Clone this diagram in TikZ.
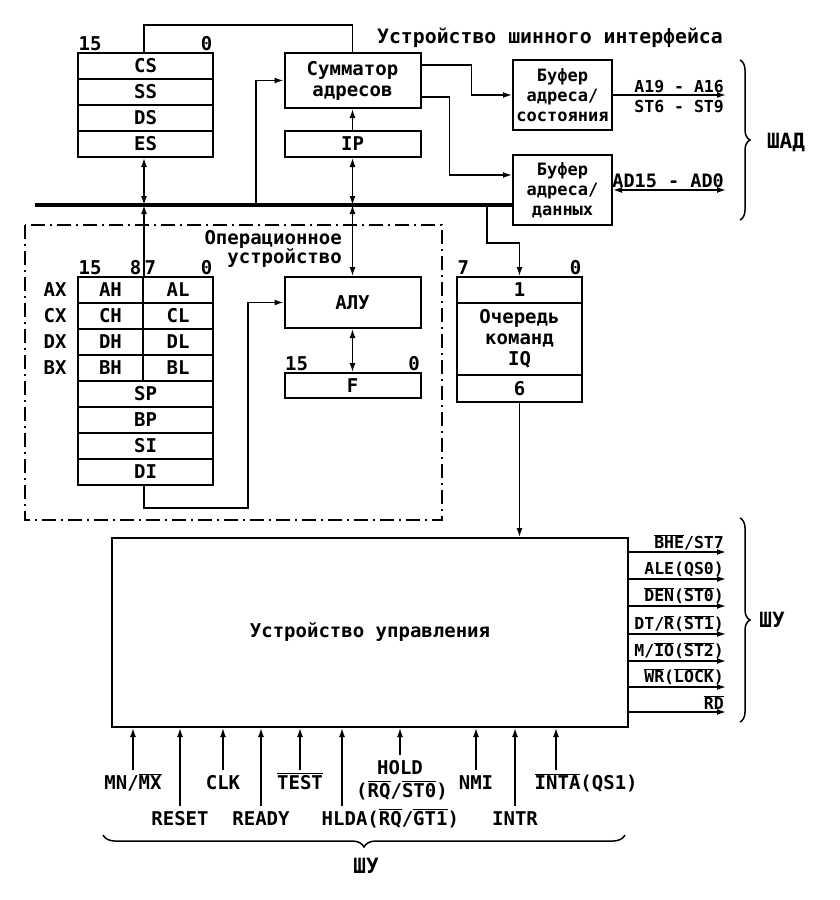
\documentclass[tikz,border=0pt]{standalone}
\usepackage{fontspec}
\setmainfont{DejaVu Sans Mono}[BoldFont={DejaVu Sans Mono Bold}]
\usetikzlibrary{arrows.meta,decorations.pathreplacing}
\newcommand{\ovl}[1]{\ensuremath{\overline{\mbox{#1}}}}
\newcommand{\diafont}{\fontsize{19}{21}\selectfont\bfseries}
\newcommand{\buffont}{\fontsize{17}{20}\selectfont\bfseries}
\newcommand{\outfont}{\fontsize{16.5}{20}\selectfont\bfseries}
\begin{document}
\begin{tikzpicture}
		    [%%%%%%%%%%%%%%%%%%%%%%%%%%%%%%
		        x=1pt, y=-1pt, font=\diafont,
		        reg/.style={rectangle,draw=black,line width=2pt,inner sep=0pt,minimum width=135pt,minimum height=26pt},
		        half/.style={reg,minimum width=#1},
		        blk/.style={rectangle,draw=black,line width=2pt,inner sep=0pt,align=center},
		        bits/.style={inner sep=1.5pt},
		        outlbl/.style={inner sep=2pt,font=\outfont},
		        sig/.style={inner sep=1.5pt,text height=17pt,text depth=4pt},
		        wire/.style={line width=1.5pt},
		        arr/.style={wire,-{Latex[length=9pt,width=6pt]}},
		        darr/.style={wire,{Latex[length=9pt,width=6pt]}-{Latex[length=9pt,width=6pt]}},
		        bus/.style={line width=3.8pt},
		        brc/.style={line width=1.5pt,decorate,decoration={brace,amplitude=#1}},
		    ]%%%%%%%%%%%%%%%%%%%%%%%%%%%%%%
		\useasboundingbox (0,0) rectangle (839,900);
		\node[font=\fontsize{19.8}{21}\selectfont\bfseries] (title) at (550,38) {Устройство шинного интерфейса};
		% segment registers
		\node[reg] (cs) at (145.5,66) {CS};
		\node[reg] (ss) at (145.5,92) {SS};
		\node[reg] (ds) at (145.5,118) {DS};
		\node[reg] (es) at (145.5,144) {ES};
		\node[bits, anchor=south west] (segh) at (cs.north west) {15};
		\node[bits, anchor=south east] (segl) at (cs.north east) {0};
		\node[blk, minimum width=136pt, minimum height=55pt] (sum) at (352.5,80.5) {Сумматор\\адресов};
		\node[reg, minimum width=136pt] (ip) at (352.5,144) {IP};
		\node[blk, minimum width=99pt, minimum height=70pt, font=\buffont] (bufs) at (562.5,95) {Буфер\\адреса/\\состояния};
		\node[blk, minimum width=99pt, minimum height=70pt, font=\buffont] (bufd) at (562.5,190) {Буфер\\адреса/\\данных};
		% execution unit
		\draw[line width=1.4pt, dash pattern=on 14pt off 5pt on 2pt off 5pt] (25,225) rectangle (442,520);
		\node[align=right, anchor=north east, inner sep=0pt, font=\fontsize{19}{19}\selectfont\bfseries] (opu) at (342,230) {Операционное\\устройство};
		\node[half=65pt] (ah) at (110.5,290) {AH};
		\node[half=70pt] (al) at (178,290) {AL};
		\node[half=65pt] (ch) at (110.5,316) {CH};
		\node[half=70pt] (cl) at (178,316) {CL};
		\node[half=65pt] (dh) at (110.5,342) {DH};
		\node[half=70pt] (dl) at (178,342) {DL};
		\node[half=65pt] (bh) at (110.5,368) {BH};
		\node[half=70pt] (bl) at (178,368) {BL};
		\node[reg] (sp) at (145.5,394) {SP};
		\node[reg] (bp) at (145.5,420) {BP};
		\node[reg] (si) at (145.5,446) {SI};
		\node[reg] (di) at (145.5,472) {DI};
		\node[bits, anchor=south west] (rh) at (ah.north west) {15};
		\node[bits, anchor=south east] (r8) at ([xshift=-1pt]ah.north east) {8};
		\node[bits, anchor=south west] (r7) at ([xshift=1pt]al.north west) {7};
		\node[bits, anchor=south east] (rl) at (al.north east) {0};
		\node[anchor=east] (ax) at ([xshift=-7pt]ah.west) {AX};
		\node[anchor=east] (cx) at ([xshift=-7pt]ch.west) {CX};
		\node[anchor=east] (dx) at ([xshift=-7pt]dh.west) {DX};
		\node[anchor=east] (bx) at ([xshift=-7pt]bh.west) {BX};
		\node[blk, minimum width=136pt, minimum height=51pt] (alu) at (352.5,302.5) {АЛУ};
		\node[reg, minimum width=136pt, minimum height=25pt] (f) at (352.5,385.5) {F};
		\node[bits, anchor=south west] (fh) at (f.north west) {15};
		\node[bits, anchor=south east] (fl) at (f.north east) {0};
		% instruction queue
		\node[reg, minimum width=125pt] (iq1) at (519.5,290) {1};
		\node[blk, minimum width=125pt, minimum height=72pt] (iqm) at (519.5,339) {Очередь\\команд\\IQ};
		\node[reg, minimum width=125pt, minimum height=27pt] (iq6) at (519.5,388.5) {6};
		\node[bits, anchor=south west] (qh) at (iq1.north west) {7};
		\node[bits, anchor=south east] (ql) at (iq1.north east) {0};
		% control unit
		\node[blk, minimum width=516pt, minimum height=189pt] (cu) at (370,632.5) {Устройство управления};
		% bus
		\coordinate (busl) at (35,205);
		\coordinate (tapa) at (256,205);
		\coordinate (tapq) at (487,205);
		\draw[bus] (busl) -- (bufd.west |- busl);
		\draw[wire] (cs.north -| ah.east) -- ++(0,-27) -| (sum.north);
		\draw[darr] (es.south -| ah.east) -- (busl -| ah.east);
		\draw[arr] (ah.north east) -- (ah.north east |- busl);
		\draw[arr] (ip.north) -- (sum.south);
		\draw[darr] (ip.south) -- (ip.south |- busl);
		\draw[darr] (ip.south |- busl) -- (alu.north);
		\draw[arr] (tapa) |- (sum.west);
		\draw[arr] ([yshift=15.5pt]sum.east) -- ++(50,0) |- (bufs.west);
		\draw[arr] ([yshift=-16.5pt]sum.east) -- ++(28,0) |- ([yshift=15pt]bufd.west);
		\draw[arr] (tapq) -- ++(0,38) -| (iq1.north);
		\draw[arr] (iq6.south) -- (iq6.south |- cu.north);
		\draw[darr] (alu.south) -- (f.north);
		\draw[arr] (di.south -| ah.east) |- ++(104,22) |- (alu.west);
		% address / data bus
		\draw[arr] (bufs.east) -- ++(113,0) coordinate (aout);
		\node[outlbl, anchor=south east] (a1916) at (aout) {A19 - A16};
		\node[outlbl, anchor=north east] (st69) at ([yshift=-3pt]aout) {ST6 - ST9};
		\draw[darr] (bufd.east) -- ++(113,0) coordinate (adout);
		\node[outlbl, anchor=south east, font=\fontsize{18.5}{20}\selectfont\bfseries] (ad) at (adout) {AD15 - AD0};
		\draw[brc=10pt] (740,60) -- (740,220);
		\node[font=\fontsize{21}{21}\selectfont\bfseries] (shad) at (786,142) {ШАД};
		% control outputs
		\draw[arr] ([yshift=-15pt]cu.north east) -- ++(97,0) coordinate (o1);
		\node[outlbl, anchor=south east] (bhe) at (o1) {\ovl{BHE}/ST7};
		\draw[arr] ([yshift=-42pt]cu.north east) -- ++(97,0) coordinate (o2);
		\node[outlbl, anchor=south east] (ale) at (o2) {ALE(QS0)};
		\draw[arr] ([yshift=-69pt]cu.north east) -- ++(97,0) coordinate (o3);
		\node[outlbl, anchor=south east] (den) at (o3) {\ovl{DEN}(\ovl{ST0})};
		\draw[arr] ([yshift=-97pt]cu.north east) -- ++(97,0) coordinate (o4);
		\node[outlbl, anchor=south east] (dtr) at (o4) {DT/\ovl{R}(\ovl{ST1})};
		\draw[arr] ([yshift=-124pt]cu.north east) -- ++(97,0) coordinate (o5);
		\node[outlbl, anchor=south east] (mio) at (o5) {M/\ovl{IO}(\ovl{ST2})};
		\draw[arr] ([yshift=-150pt]cu.north east) -- ++(97,0) coordinate (o6);
		\node[outlbl, anchor=south east] (wr) at (o6) {\ovl{WR}(\ovl{LOCK})};
		\draw[arr] ([yshift=-175pt]cu.north east) -- ++(97,0) coordinate (o7);
		\node[outlbl, anchor=south east] (rd) at (o7) {\ovl{RD}};
		\draw[brc=10pt] (740,518) -- (740,722);
		\node[font=\fontsize{21}{21}\selectfont\bfseries] (shur) at (772,620) {ШУ};
		% control inputs
		\node[sig, anchor=base] (mnmx) at (133,789) {MN/\ovl{MX}};
		\draw[arr] (mnmx.north) -- (mnmx.north |- cu.south);
		\node[sig, anchor=base] (reset) at (180,825) {RESET};
		\draw[arr] (reset.north) -- (reset.north |- cu.south);
		\node[sig, anchor=base] (clk) at (223,789) {CLK};
		\draw[arr] (clk.north) -- (clk.north |- cu.south);
		\node[sig, anchor=base] (ready) at (261,825) {READY};
		\draw[arr] (ready.north) -- (ready.north |- cu.south);
		\node[sig, anchor=base] (test) at (300,789) {\ovl{TEST}};
		\draw[arr] (test.north) -- (test.north |- cu.south);
		\node[sig, anchor=base west] (hlda) at (320,825) {HLDA(\ovl{RQ}/\ovl{GT1})};
		\coordinate (hldat) at ([xshift=22pt]hlda.north west);
		\draw[arr] (hldat) -- (hldat |- cu.south);
		\node[sig, anchor=base] (hold) at (400,774) {HOLD};
		\node[sig, anchor=base] (rqst) at (402,797) {(\ovl{RQ}/\ovl{ST0})};
		\draw[arr] (hold.north) -- (hold.north |- cu.south);
		\node[sig, anchor=base] (nmi) at (476,789) {NMI};
		\draw[arr] (nmi.north) -- (nmi.north |- cu.south);
		\node[sig, anchor=base] (intr) at (515,825) {INTR};
		\draw[arr] (intr.north) -- (intr.north |- cu.south);
		\node[sig, anchor=base west] (inta) at (533,789) {\ovl{INTA}(QS1)};
		\coordinate (intat) at ([xshift=23pt]inta.north west);
		\draw[arr] (intat) -- (intat |- cu.south);
		\draw[brc=12pt] (625,835) -- (103,835);
		\node[font=\fontsize{21}{21}\selectfont\bfseries] (shub) at (366,866) {ШУ};
		\end{tikzpicture}
\end{document}
